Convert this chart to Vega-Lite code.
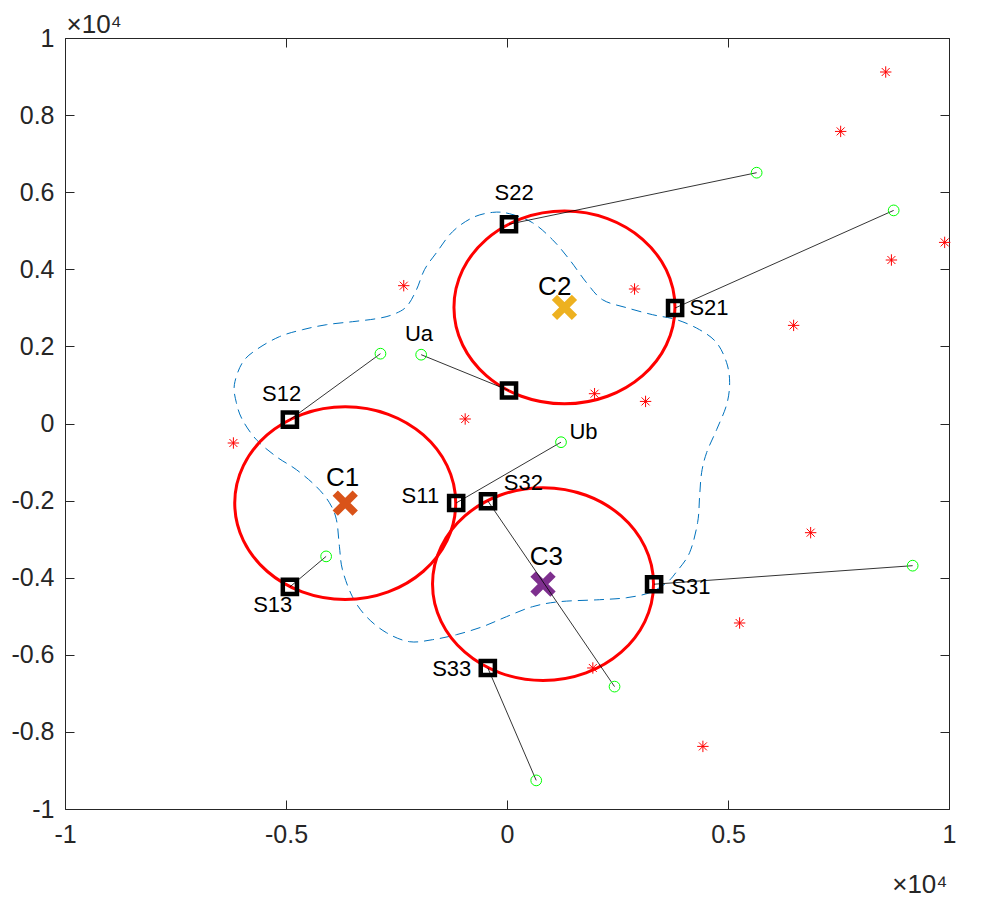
{
  "$schema": "https://vega.github.io/schema/vega-lite/v6.json",
  "width": 884,
  "height": 771,
  "autosize": {"type": "none"},
  "padding": {"left": 65, "top": 38, "right": 32, "bottom": 100},
  "background": "white",
  "config": {
    "view": {"stroke": null},
    "font": "Liberation Sans",
    "axis": {
      "grid": false,
      "domainColor": "#262626",
      "domainWidth": 1,
      "tickColor": "#262626",
      "tickSize": -9,
      "tickWidth": 1,
      "labelColor": "#262626",
      "labelFont": "Liberation Sans",
      "labelFontSize": 25,
      "labelFlush": false,
      "labelOverlap": false,
      "titleFont": "Liberation Sans",
      "titleFontWeight": "normal",
      "titleColor": "#262626",
      "titleFontSize": 26
    }
  },
  "datasets": {
    "boundary": [
      {"i": 1, "x": -330, "y": 5476}, {"i": 2, "x": 57, "y": 5442}, {"i": 3, "x": 577, "y": 5209},
      {"i": 4, "x": 1030, "y": 4768}, {"i": 5, "x": 1415, "y": 4249}, {"i": 6, "x": 1800, "y": 3653},
      {"i": 7, "x": 2162, "y": 3211}, {"i": 8, "x": 2705, "y": 3004}, {"i": 9, "x": 3294, "y": 2822},
      {"i": 10, "x": 3837, "y": 2693}, {"i": 11, "x": 4357, "y": 2433}, {"i": 12, "x": 4742, "y": 2096},
      {"i": 13, "x": 4969, "y": 1577}, {"i": 14, "x": 5037, "y": 1058}, {"i": 15, "x": 4969, "y": 488},
      {"i": 16, "x": 4742, "y": -161}, {"i": 17, "x": 4516, "y": -757}, {"i": 18, "x": 4403, "y": -1276},
      {"i": 19, "x": 4357, "y": -1899}, {"i": 20, "x": 4312, "y": -2573}, {"i": 21, "x": 4131, "y": -3351},
      {"i": 22, "x": 3837, "y": -3844}, {"i": 23, "x": 3611, "y": -4129}, {"i": 24, "x": 3226, "y": -4389},
      {"i": 25, "x": 2705, "y": -4519}, {"i": 26, "x": 2094, "y": -4571}, {"i": 27, "x": 1189, "y": -4622},
      {"i": 28, "x": 577, "y": -4752}, {"i": 29, "x": -11, "y": -5011}, {"i": 30, "x": -554, "y": -5271},
      {"i": 31, "x": -1143, "y": -5478}, {"i": 32, "x": -1686, "y": -5608}, {"i": 33, "x": -2207, "y": -5660},
      {"i": 34, "x": -2727, "y": -5427}, {"i": 35, "x": -3180, "y": -5011}, {"i": 36, "x": -3497, "y": -4493},
      {"i": 37, "x": -3723, "y": -3792}, {"i": 38, "x": -3791, "y": -3196}, {"i": 39, "x": -3859, "y": -2495},
      {"i": 40, "x": -4018, "y": -2054}, {"i": 41, "x": -4312, "y": -1639}, {"i": 42, "x": -4764, "y": -1198},
      {"i": 43, "x": -5217, "y": -861}, {"i": 44, "x": -5670, "y": -420}, {"i": 45, "x": -5987, "y": 99},
      {"i": 46, "x": -6123, "y": 540}, {"i": 47, "x": -6168, "y": 1007}, {"i": 48, "x": -5987, "y": 1577},
      {"i": 49, "x": -5670, "y": 1915}, {"i": 50, "x": -5149, "y": 2252}, {"i": 51, "x": -4629, "y": 2433},
      {"i": 52, "x": -4085, "y": 2563}, {"i": 53, "x": -3497, "y": 2641}, {"i": 54, "x": -2954, "y": 2719},
      {"i": 55, "x": -2592, "y": 2822}, {"i": 56, "x": -2275, "y": 3030}, {"i": 57, "x": -2048, "y": 3471},
      {"i": 58, "x": -1867, "y": 3990}, {"i": 59, "x": -1596, "y": 4431}, {"i": 60, "x": -1233, "y": 4975},
      {"i": 61, "x": -781, "y": 5339}
    ],
    "centers": [
      {"name": "C1", "x": -3660, "y": -2065, "r": 2500},
      {"name": "C2", "x": 1300, "y": 3010, "r": 2500},
      {"name": "C3", "x": 815, "y": -4165, "r": 2500}
    ],
    "stars": [
      {"x": 8568, "y": 9118}, {"x": 7549, "y": 7577}, {"x": 9902, "y": 4698},
      {"x": 8697, "y": 4241}, {"x": 6485, "y": 2545}, {"x": -2336, "y": 3575},
      {"x": 2886, "y": 3489}, {"x": 1981, "y": 773}, {"x": 3135, "y": 573},
      {"x": -946, "y": 117}, {"x": -6190, "y": -506}, {"x": 6870, "y": -2832},
      {"x": 5263, "y": -5175}, {"x": 1942, "y": -6342}, {"x": 4432, "y": -8376}
    ],
    "links": [
      {"site": "S22", "x": 45, "y": 5170, "x2": 5648, "y2": 6506},
      {"site": "S21", "x": 3803, "y": 2996, "x2": 8748, "y2": 5528},
      {"site": "S23", "x": 45, "y": 856, "x2": -1942, "y2": 1785},
      {"site": "S12", "x": -4912, "y": 99, "x2": -2863, "y2": 1811},
      {"site": "S11", "x": -1150, "y": -2062, "x2": 1222, "y2": -485},
      {"site": "S13", "x": -4912, "y": -4239, "x2": -4092, "y2": -3447},
      {"site": "S32", "x": -430, "y": -2016, "x2": 2433, "y2": -6825},
      {"site": "S31", "x": 3328, "y": -4169, "x2": 9178, "y2": -3688},
      {"site": "S33", "x": -434, "y": -6342, "x2": 661, "y2": -9258}
    ],
    "siteLabels": [
      {"label": "S22", "x": 160, "y": 5990},
      {"label": "S21", "x": 4570, "y": 3000},
      {"label": "Ua", "x": -1990, "y": 2310},
      {"label": "S12", "x": -5100, "y": 770},
      {"label": "S11", "x": -1960, "y": -1870},
      {"label": "S13", "x": -5300, "y": -4720},
      {"label": "S32", "x": 370, "y": -1540},
      {"label": "S31", "x": 4160, "y": -4250},
      {"label": "S33", "x": -1250, "y": -6360},
      {"label": "Ub", "x": 1730, "y": -210}
    ],
    "centerLabels": [
      {"label": "C1", "x": -3720, "y": -1410},
      {"label": "C2", "x": 1080, "y": 3550},
      {"label": "C3", "x": 890, "y": -3460}
    ]
  },
  "encoding": {
    "x": {"field": "x", "type": "quantitative", "scale": {"domain": [-10000, 10000], "nice": false, "zero": false}, "axis": null},
    "y": {"field": "y", "type": "quantitative", "scale": {"domain": [-10000, 10000], "nice": false, "zero": false}, "axis": null}
  },
  "layer": [
    {
      "data": {"name": "boundary"},
      "mark": {"type": "line", "interpolate": "cardinal-closed", "stroke": "#0072BD", "strokeWidth": 1, "strokeDash": [10, 6]},
      "encoding": {
        "x": {
          "field": "x", "type": "quantitative",
          "scale": {"domain": [-10000, 10000], "nice": false, "zero": false},
          "axis": {
            "orient": "bottom",
            "values": [-10000, -5000, 0, 5000, 10000],
            "labelExpr": "'' + datum.value / 10000",
            "labelPadding": 22,
            "title": "×10⁴",
            "titleX": 882,
            "titleY": 83,
            "titleAlign": "right",
            "titleBaseline": "alphabetic"
          }
        },
        "y": {
          "field": "y", "type": "quantitative",
          "scale": {"domain": [-10000, 10000], "nice": false, "zero": false},
          "axis": {
            "orient": "left",
            "values": [-10000, -8000, -6000, -4000, -2000, 0, 2000, 4000, 6000, 8000, 10000],
            "labelExpr": "'' + datum.value / 10000",
            "labelPadding": 20,
            "title": "×10⁴",
            "titleAngle": 0,
            "titleX": 1,
            "titleY": -6,
            "titleAlign": "left",
            "titleBaseline": "alphabetic"
          }
        },
        "order": {"field": "i", "type": "quantitative"}
      }
    },
    {
      "data": {"name": "centers"},
      "mark": {
        "type": "point",
        "shape": "M1,0C1,0.4817,0.5523,0.8722,0,0.8722C-0.5523,0.8722,-1,0.4817,-1,0C-1,-0.4817,-0.5523,-0.8722,0,-0.8722C0.5523,-0.8722,1,-0.4817,1,0Z",
        "filled": false,
        "stroke": "#FF0000",
        "strokeWidth": 3,
        "opacity": 1
      },
      "encoding": {
        "x": {
          "field": "x", "type": "quantitative",
          "scale": {"domain": [-10000, 10000], "nice": false, "zero": false},
          "axis": {"orient": "top", "values": [-10000, -5000, 0, 5000, 10000], "labels": false, "title": null}
        },
        "y": {
          "field": "y", "type": "quantitative",
          "scale": {"domain": [-10000, 10000], "nice": false, "zero": false},
          "axis": {"orient": "right", "values": [-10000, -8000, -6000, -4000, -2000, 0, 2000, 4000, 6000, 8000, 10000], "labels": false, "title": null}
        },
        "size": {"field": "r", "type": "quantitative", "scale": {"type": "pow", "exponent": 2, "domain": [0, 2500], "range": [0, 48841]}, "legend": null}
      }
    },
    {
      "data": {"name": "stars"},
      "mark": {
        "type": "point",
        "shape": "M-1,0L1,0M0,-1L0,1M-0.7,-0.7L0.7,0.7M-0.7,0.7L0.7,-0.7",
        "filled": false,
        "stroke": "#FF0000",
        "strokeWidth": 1,
        "size": 130,
        "opacity": 1
      }
    },
    {
      "data": {"name": "centers"},
      "mark": {
        "type": "point",
        "shape": "M-1,-1L1,1M-1,1L1,-1",
        "filled": false,
        "strokeWidth": 7.5,
        "size": 400,
        "opacity": 1
      },
      "encoding": {
        "stroke": {"field": "name", "type": "nominal", "scale": {"domain": ["C1", "C2", "C3"], "range": ["#D95319", "#EDB120", "#7E2F8E"]}, "legend": null}
      }
    },
    {
      "data": {"name": "links"},
      "mark": {"type": "rule", "color": "#000000", "strokeWidth": 0.8},
      "encoding": {
        "x2": {"field": "x2"},
        "y2": {"field": "y2"}
      }
    },
    {
      "data": {"name": "links"},
      "mark": {"type": "point", "shape": "square", "filled": false, "stroke": "#000000", "strokeWidth": 4.5, "size": 200, "opacity": 1}
    },
    {
      "data": {"name": "links"},
      "mark": {"type": "point", "shape": "circle", "filled": false, "stroke": "#00FF00", "strokeWidth": 1, "size": 115, "opacity": 1},
      "encoding": {
        "x": {"field": "x2", "type": "quantitative", "scale": {"domain": [-10000, 10000], "nice": false, "zero": false}, "axis": null},
        "y": {"field": "y2", "type": "quantitative", "scale": {"domain": [-10000, 10000], "nice": false, "zero": false}, "axis": null}
      }
    },
    {
      "data": {"name": "siteLabels"},
      "mark": {"type": "text", "font": "Liberation Sans", "fontSize": 22, "color": "#000000", "align": "center", "baseline": "middle"},
      "encoding": {"text": {"field": "label"}}
    },
    {
      "data": {"name": "centerLabels"},
      "mark": {"type": "text", "font": "Liberation Sans", "fontSize": 26, "color": "#000000", "align": "center", "baseline": "middle"},
      "encoding": {"text": {"field": "label"}}
    }
  ],
  "resolve": {"axis": {"x": "independent", "y": "independent"}}
}
